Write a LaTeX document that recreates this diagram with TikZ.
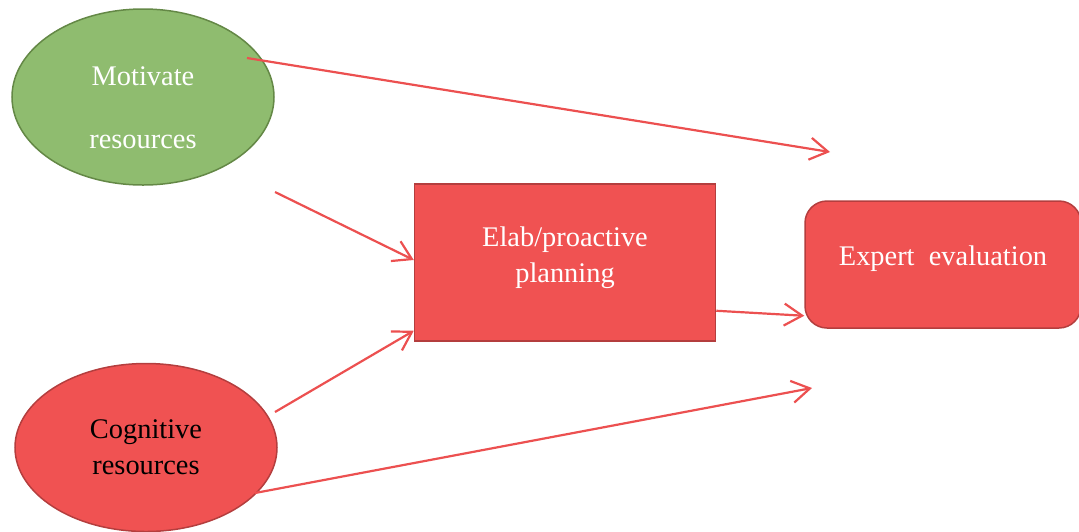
\documentclass[tikz,border=0pt]{standalone}
\usepackage{fontspec}
\setmainfont{Liberation Serif}
\usetikzlibrary{positioning}
\usetikzlibrary{shapes.geometric}
\usetikzlibrary{arrows.meta}

\definecolor{boxred}{RGB}{240,82,82}
\definecolor{edgered}{RGB}{180,62,62}
\definecolor{boxgreen}{RGB}{143,188,111}
\definecolor{edgegreen}{RGB}{100,136,70}
\definecolor{linkred}{RGB}{236,80,80}

\tikzset{
  txt/.style={font=\fontsize{14.2pt}{18pt}\selectfont, align=center},
  link/.style={draw=linkred, line width=1.1pt, -{Straight Barb[length=9pt,width=11pt,line width=1.1pt]}}
}

\begin{document}
\begin{tikzpicture}[x=0.5pt,y=-0.5pt]
  \useasboundingbox (0,0) rectangle (1079,531);

  \node(mot)[ellipse, draw=edgegreen, fill=boxgreen, line width=0.75pt, inner sep=0pt,
    minimum width=131pt, minimum height=88pt] at (143,97){};
  \node(mottext)[txt, text=white, yshift=-5.5pt] at (mot.center){Motivate\\[13.5pt]resources};

  \node(cog)[ellipse, draw=edgered, fill=boxred, line width=0.75pt, inner sep=0pt,
    minimum width=131pt, minimum height=84pt, txt, text=black,
    below=88.5pt of mot, xshift=1.5pt]{Cognitive\\resources};

  \node(plan)[rectangle, draw=edgered, fill=boxred, line width=0.75pt, inner sep=0pt,
    minimum width=150.5pt, minimum height=78.5pt,
    right=69.5pt of mot, yshift=-82.75pt]{};
  \node(plantext)[txt, text=white, yshift=2.5pt] at (plan.center){Elab/proactive\\planning};

  \node(expert)[rectangle, rounded corners=11pt, draw=edgered, fill=boxred, line width=0.75pt,
    inner sep=0pt, minimum width=138pt, minimum height=63.5pt,
    right=44pt of plan, yshift=-1pt]{};
  \node(experttext)[txt, text=white, yshift=3pt] at (expert.center){Expert~ evaluation};

  % free ends of the arrows
  \coordinate(a1) at (247,58);
  \coordinate(b1) at (830,152);
  \coordinate(a2) at (275,192);
  \coordinate(a4) at (275,412);
  \coordinate(a5) at (255,493);
  \coordinate(b5) at (812,388);

  \draw[link](a1)--(b1);
  \draw[link](a2)--([yshift=1.25pt]plan.west);
  \draw[link]([yshift=15.5pt]plan.south east)--([yshift=6.5pt]expert.south west);
  \draw[link](a4)--([yshift=5.5pt]plan.south west);
  \draw[link](a5)--(b5);

\end{tikzpicture}
\end{document}
